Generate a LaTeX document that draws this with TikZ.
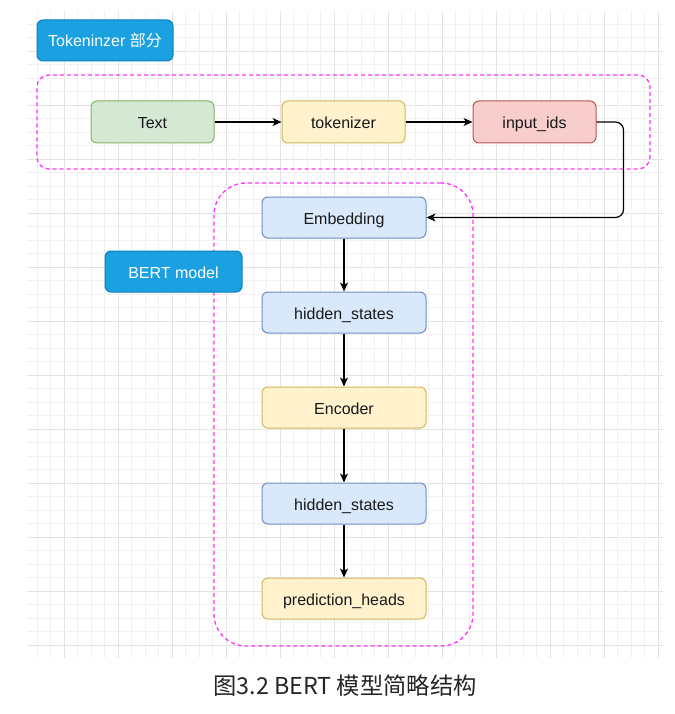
\documentclass[tikz,border=0pt]{standalone}
\usepackage{fontspec}
\setmainfont{Liberation Sans}
\newfontfamily\cjk{Noto Sans CJK SC}
\usetikzlibrary{arrows.meta,calc}
\definecolor{gfill}{HTML}{D5E8D4}\definecolor{gline}{HTML}{82B366}
\definecolor{yfill}{HTML}{FFF2CC}\definecolor{yline}{HTML}{D6B656}
\definecolor{rfill}{HTML}{F8CECC}\definecolor{rline}{HTML}{B85450}
\definecolor{bfill}{HTML}{DAE8FC}\definecolor{bline}{HTML}{6C8EBF}
\definecolor{lfill}{HTML}{1BA1E2}\definecolor{lline}{HTML}{0A7FC0}
\definecolor{pink}{HTML}{FF33FF}
\definecolor{gmajor}{HTML}{E3E3E3}\definecolor{gminor}{HTML}{F1F1F1}
\tikzset{
  x=1pt,y=-1pt,
  box/.style={draw,rounded corners=6pt,line width=1pt,minimum width=123pt,minimum height=42pt,font=\fontsize{16}{19}\selectfont,inner sep=0pt,text height=15pt,text depth=2pt,text=black!90},
  wbox/.style={box,minimum width=164pt,minimum height=41pt},
  green/.style={box,fill=gfill,draw=gline},
  yellowb/.style={fill=yfill,draw=yline},
  redb/.style={box,fill=rfill,draw=rline},
  blueb/.style={fill=bfill,draw=bline},
  tag/.style={draw=lline,fill=lfill,text=white,rounded corners=6pt,line width=1pt,minimum height=41pt,font=\fontsize{16}{19}\selectfont,inner sep=0pt,text height=15pt,text depth=2pt},
  grp/.style={draw=pink,dashed,dash pattern=on 4pt off 3pt,line width=1.3pt,inner sep=0pt},
  arr/.style={line width=1.2pt,-{Stealth[length=9pt,width=8pt,inset=2.5pt]}},
}
\begin{document}
\begin{tikzpicture}
\useasboundingbox[fill=white] (0,0) rectangle (674,714);
% grid
\begin{scope}
\clip (27,12) rectangle (663,657);
\foreach \k in {-3,...,45}{
  \pgfmathtruncatemacro{\m}{mod(\k+40,4)}
  \ifnum\m=0 \def\gc{gmajor}\else\def\gc{gminor}\fi
  \draw[\gc,line width=0.9pt] ({64.3+13.5*\k},0) -- ({64.3+13.5*\k},670);
  \draw[\gc,line width=0.9pt] (0,{51.3+13.5*\k}) -- (680,{51.3+13.5*\k});
}
\end{scope}
% groups
\node[grp,rounded corners=12pt,minimum width=613pt,minimum height=94pt] (tokgrp) at (343.5,122) {};
\node[grp,rounded corners=32pt,minimum width=259pt,minimum height=463pt] (bertgrp) at (343.5,414.5) {};
% labels
\node[tag,minimum width=136pt] (toklabel) at (105,40.5) {Tokeninzer {\cjk 部分}};
\node[tag,minimum width=137pt] (bertlabel) at (173.5,271.5) {BERT model};
% tokenizer part
\node[green] (text) at (152.5,122) {Text};
\node[box,yellowb] (tokenizer) at (343.5,122) {tokenizer};
\node[redb] (ids) at (534.5,122) {input\_ids};
% bert
\node[wbox,blueb] (emb) at (344,217.5) {Embedding};
\node[wbox,blueb] (hs1) at (344,312.5) {hidden\_states};
\node[wbox,yellowb] (enc) at (344,407.5) {Encoder};
\node[wbox,blueb] (hs2) at (344,503.5) {hidden\_states};
\node[wbox,yellowb] (pred) at (344,598.5) {prediction\_heads};
% connectors
\draw[arr] (text) -- (tokenizer);
\draw[arr] (tokenizer) -- (ids);
\draw[arr,rounded corners=8pt] (ids.east) -- ++(27,0) |- (emb.east);
\draw[arr] (emb) -- (hs1);
\draw[arr] (hs1) -- (enc);
\draw[arr] (enc) -- (hs2);
\draw[arr] (hs2) -- (pred);
% caption
\node[font=\cjk\fontsize{23.3}{27}\selectfont,text=black!85] (cap) at (345,686) {图3.2 BERT 模型简略结构};
\end{tikzpicture}
\end{document}
